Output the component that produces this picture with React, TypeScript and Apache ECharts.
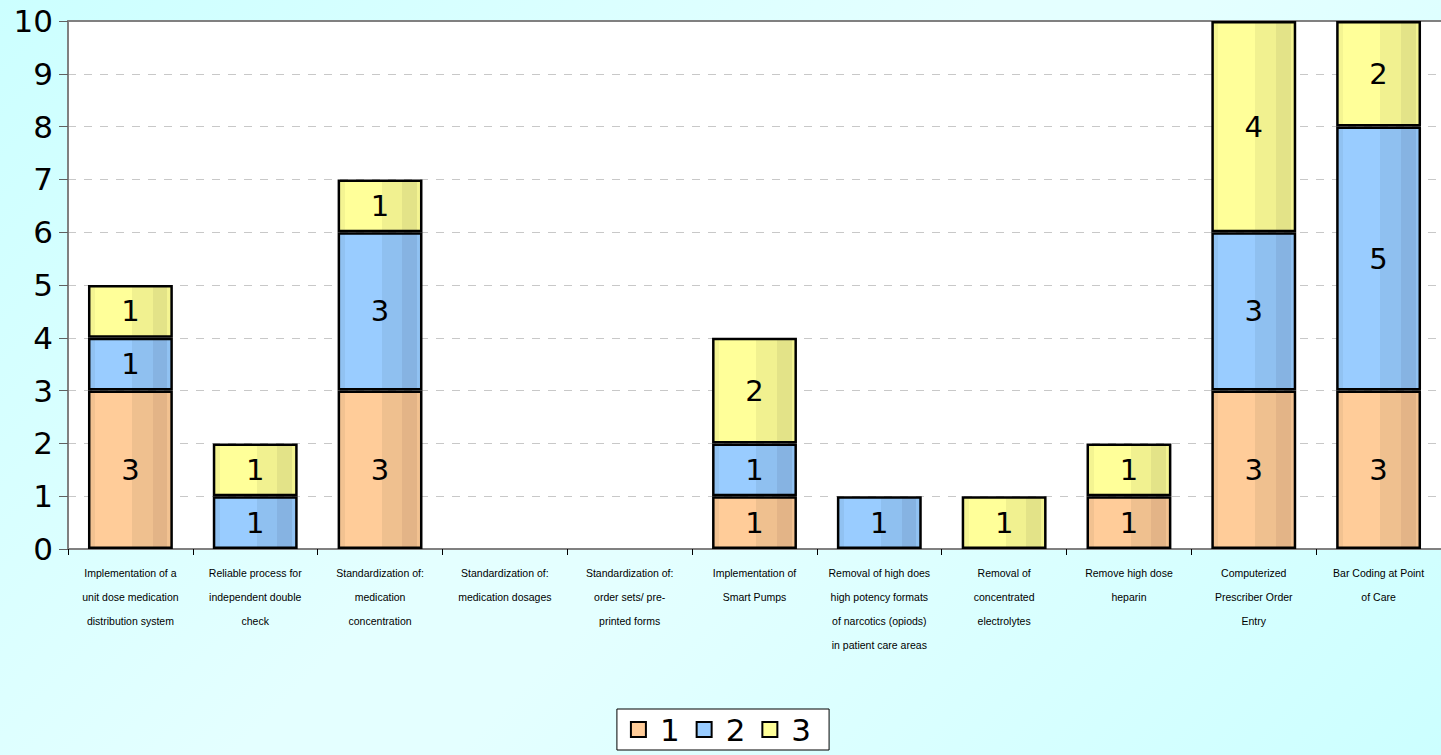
import React, { useEffect, useRef } from "react";
import * as echarts from "echarts";

const categories = [
  "Implementation of a\nunit dose medication\ndistribution system",
  "Reliable process for\nindependent double\ncheck",
  "Standardization of:\nmedication\nconcentration",
  "Standardization of:\nmedication dosages",
  "Standardization of:\norder sets/ pre-\nprinted forms",
  "Implementation of\nSmart Pumps",
  "Removal of high does\nhigh potency formats\nof narcotics (opiods)\nin patient care areas",
  "Removal of\nconcentrated\nelectrolytes",
  "Remove high dose\nheparin",
  "Computerized\nPrescriber Order\nEntry",
  "Bar Coding at Point\nof Care",
];

const seriesNames = ["1", "2", "3"];
const values1 = [3, 0, 3, 0, 0, 1, 0, 0, 1, 3, 3];
const values2 = [1, 1, 3, 0, 0, 1, 1, 0, 0, 3, 5];
const values3 = [1, 1, 1, 0, 0, 2, 0, 1, 1, 4, 2];

const yTicks = [0, 1, 2, 3, 4, 5, 6, 7, 8, 9, 10];

const palettes = [
  { base: "#FFCC99", edge: "#F2C291", mid: "#EFC08F", dark: "#E3B487" },
  { base: "#99CCFF", edge: "#91C2F2", mid: "#8FC0F0", dark: "#86B3E2" },
  { base: "#FFFF99", edge: "#F4F492", mid: "#F1F190", dark: "#E3E388" },
];

function stripeGradient(p: { base: string; edge: string; mid: string; dark: string }) {
  return {
    type: "linear",
    x: 0,
    y: 0,
    x2: 1,
    y2: 0,
    colorStops: [
      { offset: 0, color: p.edge },
      { offset: 0.07, color: p.edge },
      { offset: 0.07, color: p.base },
      { offset: 0.52, color: p.base },
      { offset: 0.52, color: p.mid },
      { offset: 0.77, color: p.mid },
      { offset: 0.77, color: p.dark },
      { offset: 0.95, color: p.dark },
      { offset: 0.95, color: p.edge },
      { offset: 1, color: p.edge },
    ],
  };
}

export default function App() {
  const ref = useRef<HTMLDivElement>(null);
  useEffect(() => {
    if (!ref.current) return;
    const chart = echarts.init(ref.current, undefined, { renderer: "svg" });
    const allValues = [values1, values2, values3];
    const series = seriesNames.map((name, i) => ({
      name,
      type: "bar",
      stack: "total",
      barWidth: "68%",
      xAxisIndex: 0,
      data: allValues[i].map((v) => (v === 0 ? null : v)),
      itemStyle: {
        color: stripeGradient(palettes[i]),
        borderColor: "#000",
        borderWidth: 2.5,
      },
      label: {
        show: true,
        position: "inside",
        color: "#000",
        fontSize: 29,
        fontFamily: "DejaVu Sans",
        formatter: (p: any) => (p.value ? String(p.value) : ""),
      },
    }));
    chart.setOption({
      animation: false,
      backgroundColor: "transparent",
      grid: {
        left: 68,
        top: 21,
        width: 1375,
        bottom: 206,
        show: true,
        backgroundColor: "#FFFFFF",
        borderWidth: 0,
      },
      legend: {
        bottom: 5,
        left: "center",
        data: seriesNames.map((n, i) => ({ name: n, itemStyle: { color: palettes[i].base } })),
        itemWidth: 15,
        itemHeight: 15,
        itemGap: 16,
        padding: [5, 18, 5, 13],
        backgroundColor: "#FFFFFF",
        borderColor: "#000",
        borderWidth: 1,
        borderRadius: 0,
        icon: "rect",
        itemStyle: { borderColor: "#000", borderWidth: 2 },
        textStyle: {
          fontSize: 31,
          fontFamily: "DejaVu Sans",
          color: "#000",
          padding: [0, 0, 0, 9],
        },
      },
      xAxis: [
        {
          type: "category",
          data: categories,
          position: "bottom",
          axisLine: { show: true, lineStyle: { color: "#808080", width: 2 } },
          axisTick: { show: true, interval: 0, length: 6, lineStyle: { color: "#000", width: 1 } },
          axisLabel: {
            interval: 0,
            margin: 12,
            fontSize: 10.5,
            lineHeight: 24,
            fontFamily: "Liberation Sans",
            color: "#000",
          },
        },
        {
          type: "category",
          data: categories,
          position: "top",
          axisLine: { show: true, lineStyle: { color: "#808080", width: 2 } },
          axisTick: { show: false },
          axisLabel: { show: false },
        },
      ],
      yAxis: {
        type: "value",
        min: yTicks[0],
        max: yTicks[yTicks.length - 1],
        interval: 1,
        axisLine: { show: true, lineStyle: { color: "#808080", width: 2 } },
        axisTick: { show: true, length: 9, lineStyle: { color: "#606060", width: 1 } },
        axisLabel: {
          margin: 15,
          fontSize: 31,
          fontFamily: "DejaVu Sans",
          color: "#000",
        },
        splitLine: { show: true, lineStyle: { color: "#C8C8C8", type: [8, 8], width: 1 } },
      },
      series,
    });
    return () => chart.dispose();
  }, []);
  return (
    <div
      style={{
        position: "fixed",
        left: 0,
        top: 0,
        width: 1441,
        height: 755,
        background: "linear-gradient(135deg, #CCFFFF 0%, #E4FFFF 45%, #E4FFFF 55%, #CCFFFF 100%)",
      }}
    >
      <div ref={ref} style={{ width: 1441, height: 755 }} />
    </div>
  );
}
